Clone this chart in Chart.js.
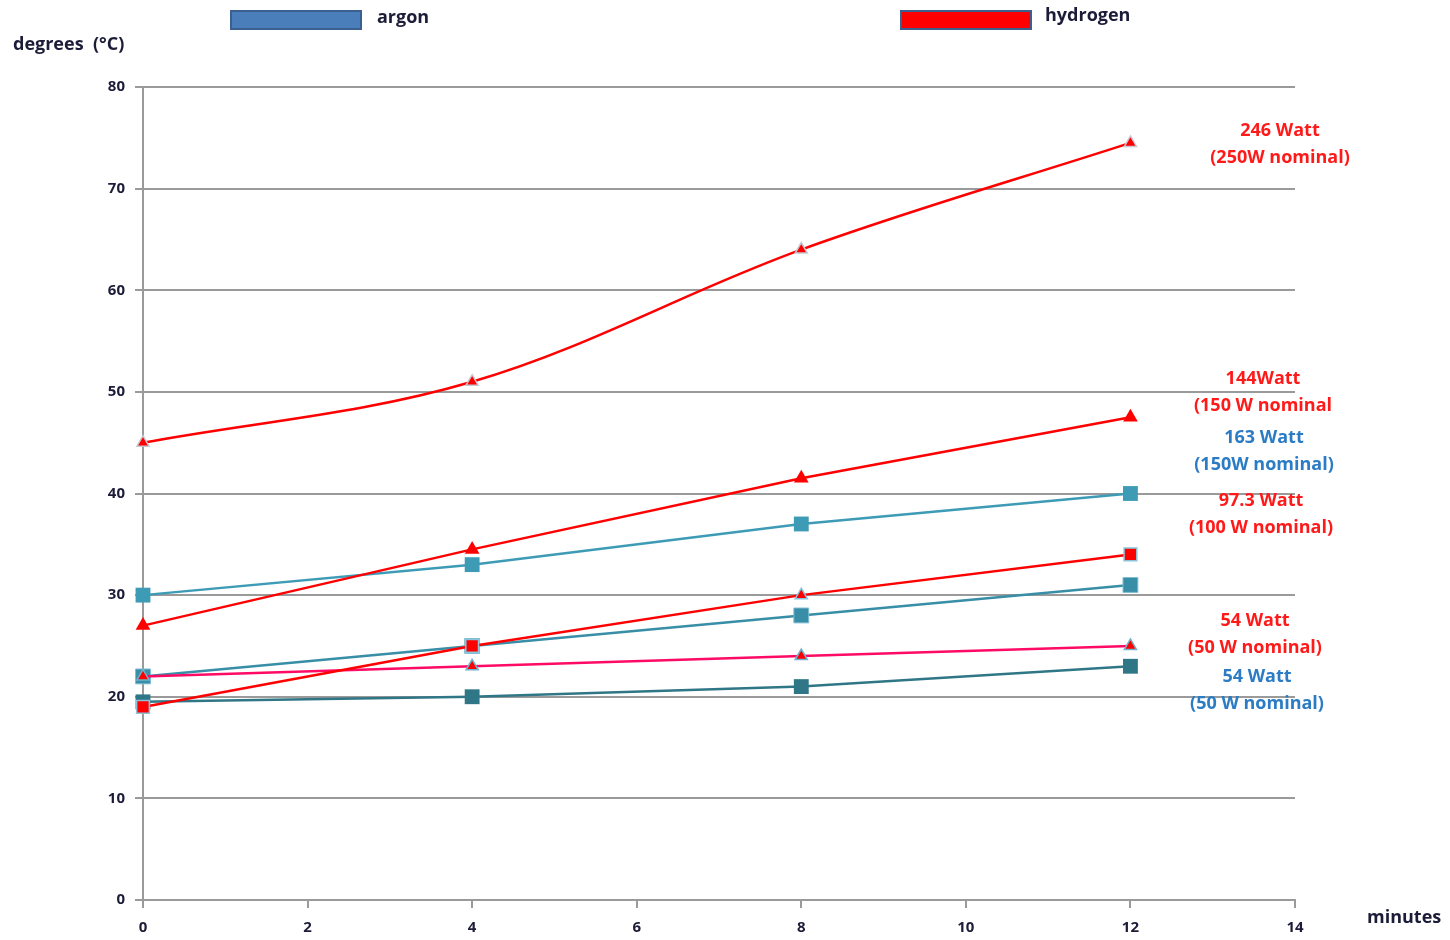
<!DOCTYPE html>
<html>
<head>
<meta charset="utf-8">
<script src="https://cdn.jsdelivr.net/npm/chart.js@4"></script>
<style>
  html, body { margin: 0; padding: 0; background: #fff; }
  #wrap { width: 1450px; height: 940px; }
</style>
</head>
<body>
<div id="wrap"><canvas id="c" width="1450" height="940"></canvas></div>
<script>
const minutes = [0, 4, 8, 12];

// hydrogen lamps
const h246 = [45, 51, 64, 74.5];
const h144 = [27, 34.5, 41.5, 47.5];
const h97 = [19, 25, 30, 34];
const h54 = [22, 23, 24, 25];

// argon lamps
const ar163 = [30, 33, 37, 40];
const ar97 = [22, 25, 28, 31];
const ar54 = [19.5, 20, 21, 23];

const yTicks = [0, 10, 20, 30, 40, 50, 60, 70, 80];
const xTicks = [0, 2, 4, 6, 8, 10, 12, 14];

const notes = [
    { lines: ['246 Watt', '(250W nominal)'], color: '#ff1a1a', x: 1280, y: 131 },
    { lines: ['144Watt', '(150 W nominal'], color: '#ff1a1a', x: 1263, y: 379 },
    { lines: ['163 Watt', '(150W nominal)'], color: '#2b7cc4', x: 1264, y: 438 },
    { lines: ['97.3 Watt', '(100 W nominal)'], color: '#ff1a1a', x: 1261, y: 501 },
    { lines: ['54 Watt', '(50 W nominal)'], color: '#ff1a1a', x: 1255, y: 621 },
    { lines: ['54 Watt', '(50 W nominal)'], color: '#2b7cc4', x: 1257, y: 677 },
];

const FONT = '"Open Sans", Lato, sans-serif';
const TXT = '#1c1c38';

const pts = arr => arr.map((v, i) => ({ x: minutes[i], y: v }));

const decor = {
    id: 'decor',
    afterDraw(chart) {
        const ctx = chart.ctx;
        ctx.save();
        // legend boxes
        ctx.lineWidth = 2;
        ctx.strokeStyle = '#3b5f8e';
        ctx.fillStyle = '#4a7ebb';
        ctx.fillRect(231, 11, 130, 18);
        ctx.strokeRect(231, 11, 130, 18);
        ctx.fillStyle = '#ff0000';
        ctx.fillRect(901, 11, 130, 18);
        ctx.strokeRect(901, 11, 130, 18);

        ctx.fillStyle = TXT;
        ctx.font = 'bold 18px ' + FONT;
        ctx.textBaseline = 'middle';
        ctx.textAlign = 'left';
        ctx.fillText('argon', 377, 18);
        ctx.fillText('hydrogen', 1045, 16);
        ctx.fillText('degrees  (°C)', 13, 45);
        ctx.fillText('minutes', 1367, 918);

        ctx.textAlign = 'center';
        notes.forEach(n => {
            ctx.fillStyle = n.color;
            n.lines.forEach((t, i) => ctx.fillText(t, n.x, n.y + i * 27));
        });
        ctx.restore();
    }
};

new Chart(document.getElementById('c'), {
    type: 'line',
    data: {
        datasets: [
            {
                label: '246 W hydrogen',
                data: pts(h246),
                borderColor: '#ff0000',
                backgroundColor: '#ff0000',
                borderWidth: 2.5,
                tension: 0.35,
                pointStyle: 'triangle',
                pointRadius: 7,
                pointBorderColor: '#c8c8d0',
                pointBorderWidth: 1.5,
            },
            {
                label: '144 W hydrogen',
                data: pts(h144),
                borderColor: '#ff0000',
                backgroundColor: '#ff0000',
                borderWidth: 2.5,
                pointStyle: 'triangle',
                pointRadius: 8.5,
                pointBorderColor: '#ff0000',
                pointBorderWidth: 0,
            },
            {
                label: '97.3 W hydrogen',
                data: pts(h97),
                borderColor: '#ff0000',
                backgroundColor: '#ff0000',
                borderWidth: 2.5,
                pointStyle: ['rect', 'rect', 'triangle', 'rect'],
                pointRadius: [9, 9, 7, 9],
                pointBorderColor: '#8cc3d8',
                pointBorderWidth: 1.5,
            },
            {
                label: '54 W hydrogen',
                data: pts(h54),
                borderColor: '#ff0a64',
                backgroundColor: '#ff0000',
                borderWidth: 2.5,
                pointStyle: 'triangle',
                pointRadius: 7,
                pointBorderColor: '#6fb3cc',
                pointBorderWidth: 1.5,
            },
            {
                label: '163 W argon',
                data: pts(ar163),
                borderColor: '#3e9bb6',
                backgroundColor: '#3e9bb6',
                borderWidth: 2.5,
                pointStyle: 'rect',
                pointRadius: 10.5,
                pointBorderWidth: 0,
            },
            {
                label: 'argon',
                data: pts(ar97),
                borderColor: '#388ea7',
                backgroundColor: '#388ea7',
                borderWidth: 2.5,
                pointStyle: 'rect',
                pointRadius: 10.5,
                pointBorderColor: '#7fbcd2',
                pointBorderWidth: 1,
            },
            {
                label: '54 W argon',
                data: pts(ar54),
                borderColor: '#2f7687',
                backgroundColor: '#2f7687',
                borderWidth: 2.5,
                pointStyle: 'rect',
                pointRadius: 10.5,
                pointBorderWidth: 0,
            },
        ],
    },
    options: {
        responsive: false,
        animation: false,
        clip: false,
        layout: { padding: { top: 87, right: 155, left: 0, bottom: 0 } },
        plugins: {
            legend: { display: false },
            tooltip: { enabled: false },
        },
        scales: {
            x: {
                type: 'linear',
                min: 0,
                max: 14,
                afterFit: s => { s.height = 40; },
                afterBuildTicks: s => { s.ticks = xTicks.map(v => ({ value: v })); },
                grid: { drawOnChartArea: false, color: '#9a9a9a', lineWidth: 2, tickLength: 8 },
                border: { color: '#9a9a9a', width: 2 },
                ticks: { color: TXT, padding: 11, font: { family: FONT, size: 15, weight: 'bold' } },
            },
            y: {
                min: 0,
                max: 80,
                afterFit: s => { s.width = 143; },
                afterBuildTicks: s => { s.ticks = yTicks.map(v => ({ value: v })); },
                grid: { color: '#9a9a9a', lineWidth: 2, tickLength: 8 },
                border: { color: '#9a9a9a', width: 2 },
                ticks: { color: TXT, padding: 10, font: { family: FONT, size: 15, weight: 'bold' } },
            },
        },
    },
    plugins: [decor],
});
</script>
</body>
</html>
